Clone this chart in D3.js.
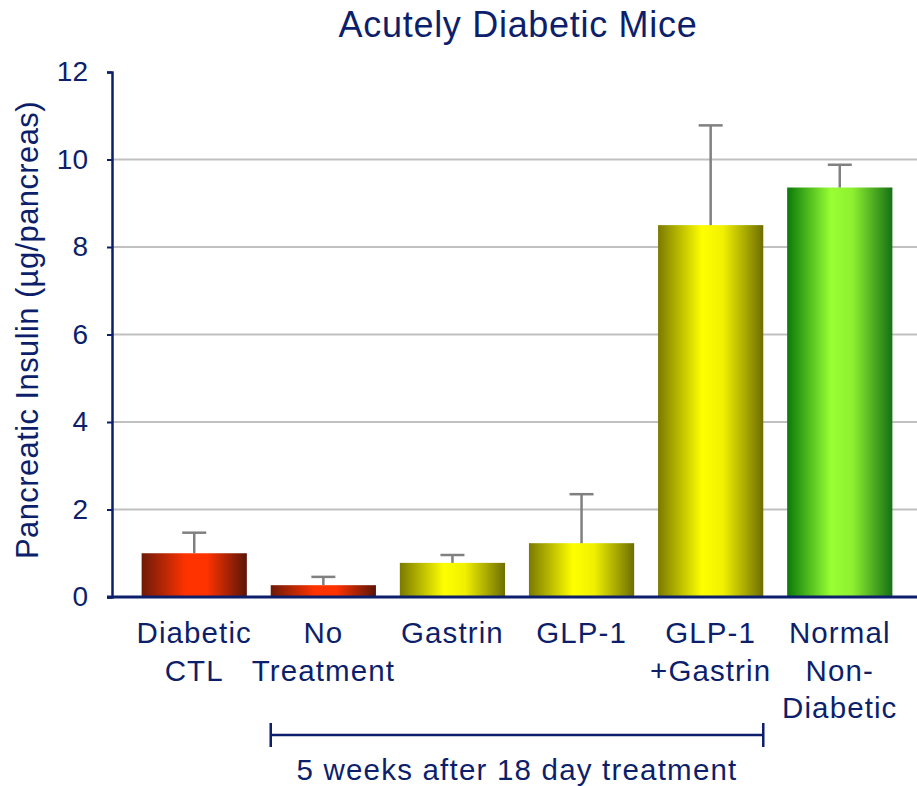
<!DOCTYPE html>
<html>
  <head>
    <meta charset="UTF-8" />
    <title>Acutely Diabetic Mice</title>
    <style>
      body { margin: 0; background: #fff; }
      text { font-family: "Liberation Sans", Arial, sans-serif; fill: #0d1f6b; }
    </style>
    <script src="https://d3js.org/d3.v7.min.js"></script>
  </head>
  <body>
    <svg id="viz" width="917" height="786"></svg>
    <script>
      // data
      var groups = ["Diabetic CTL", "No Treatment", "Gastrin", "GLP-1", "GLP-1 +Gastrin", "Normal Non-Diabetic"];
      var groupLines = [["Diabetic", "CTL"], ["No", "Treatment"], ["Gastrin"], ["GLP-1"], ["GLP-1", "+Gastrin"], ["Normal", "Non-", "Diabetic"]];
      var means = [1.0, 0.27, 0.78, 1.23, 8.5, 9.36];
      var errors = [0.47, 0.19, 0.18, 1.12, 2.28, 0.52];
      var colourKey = ["red", "red", "yellow", "yellow", "yellow", "green"];
      var yTicks = [0, 2, 4, 6, 8, 10, 12];

      var navy = "#0d1f6b";
      var svg = d3.select("#viz");

      var x = d3.scaleBand().domain(groups).range([130, 904]).paddingInner(0.185).paddingOuter(0.09);
      var y = d3.scaleLinear().domain([0, 12]).range([597, 72]);

      // gradients for the cylinder-ish bars
      var palettes = {
        red: ["#6e1a08", "#ff3300", "#ff3300", "#5a1508"],
        yellow: ["#7a7a00", "#ffff00", "#f0f000", "#6e6e00"],
        green: ["#0a7a0a", "#99ff33", "#8ef030", "#157015"]
      };
      var defs = svg.append("defs");
      Object.keys(palettes).forEach(function (k) {
        var g = defs.append("linearGradient").attr("id", "g-" + k)
          .attr("x1", "0%").attr("x2", "100%").attr("y1", "0%").attr("y2", "0%");
        var c = palettes[k];
        g.append("stop").attr("offset", "0%").attr("stop-color", c[0]);
        g.append("stop").attr("offset", "42%").attr("stop-color", c[1]);
        g.append("stop").attr("offset", "62%").attr("stop-color", c[2]);
        g.append("stop").attr("offset", "100%").attr("stop-color", c[3]);
      });

      // gridlines
      svg.append("g").selectAll("line").data(yTicks.filter(function (d) { return d > 0 && d < 12; }))
        .enter().append("line")
        .attr("x1", 112).attr("x2", 917)
        .attr("y1", function (d) { return y(d); }).attr("y2", function (d) { return y(d); })
        .attr("stroke", "#c0c0c0").attr("stroke-width", 2);

      // bars
      svg.append("g").selectAll("rect").data(groups).enter().append("rect")
        .attr("x", function (d) { return x(d); })
        .attr("width", x.bandwidth())
        .attr("y", function (d, i) { return y(means[i]); })
        .attr("height", function (d, i) { return y(0) - y(means[i]); })
        .attr("fill", function (d, i) { return "url(#g-" + colourKey[i] + ")"; });

      // error bars (upper only)
      var eb = svg.append("g").attr("stroke", "#808080").attr("stroke-width", 2.5);
      groups.forEach(function (d, i) {
        var cx = x(d) + x.bandwidth() / 2;
        eb.append("line").attr("x1", cx).attr("x2", cx)
          .attr("y1", y(means[i])).attr("y2", y(means[i] + errors[i]));
        eb.append("line").attr("x1", cx - 12).attr("x2", cx + 12)
          .attr("y1", y(means[i] + errors[i])).attr("y2", y(means[i] + errors[i]));
      });

      // y axis
      var yAxis = d3.axisLeft(y).tickValues(yTicks).tickSize(5).tickPadding(19);
      var ya = svg.append("g").attr("transform", "translate(112,0)").call(yAxis);
      ya.select(".domain").attr("stroke", navy).attr("stroke-width", 2.5);
      ya.selectAll(".tick line").attr("stroke", navy).attr("stroke-width", 2);
      ya.selectAll(".tick text").attr("font-size", 28).attr("fill", navy)
        .style("font-family", "'Liberation Sans', Arial, sans-serif");

      // x axis line
      svg.append("line").attr("x1", 107).attr("x2", 917).attr("y1", y(0)).attr("y2", y(0))
        .attr("stroke", navy).attr("stroke-width", 3);

      // category labels
      var cl = svg.append("g");
      groups.forEach(function (d, i) {
        var t = cl.append("text").attr("text-anchor", "middle").attr("font-size", 29.5)
          .attr("letter-spacing", 1.1)
          .attr("x", x(d) + x.bandwidth() / 2).attr("y", 643);
        groupLines[i].forEach(function (s, j) {
          t.append("tspan").attr("x", x(d) + x.bandwidth() / 2).attr("dy", j === 0 ? 0 : 37.5).text(s);
        });
      });

      // bracket under treated groups
      var bx1 = x(groups[1]), bx2 = x(groups[4]) + x.bandwidth();
      var br = svg.append("g").attr("stroke", navy).attr("stroke-width", 2.5);
      br.append("line").attr("x1", bx1).attr("x2", bx2).attr("y1", 735).attr("y2", 735);
      br.append("line").attr("x1", bx1).attr("x2", bx1).attr("y1", 723).attr("y2", 747);
      br.append("line").attr("x1", bx2).attr("x2", bx2).attr("y1", 723).attr("y2", 747);
      svg.append("text").attr("text-anchor", "middle").attr("font-size", 29.5)
        .attr("letter-spacing", 1.2)
        .attr("x", (bx1 + bx2) / 2).attr("y", 780).text("5 weeks after 18 day treatment");

      // title
      svg.append("text").attr("text-anchor", "middle").attr("font-size", 36)
        .attr("letter-spacing", 0.7)
        .attr("x", 518).attr("y", 37).text("Acutely Diabetic Mice");

      // y label
      svg.append("text").attr("text-anchor", "middle").attr("font-size", 31)
        .attr("letter-spacing", 0.4)
        .attr("transform", "translate(38,330) rotate(-90)").text("Pancreatic Insulin (µg/pancreas)");
    </script>
  </body>
</html>
